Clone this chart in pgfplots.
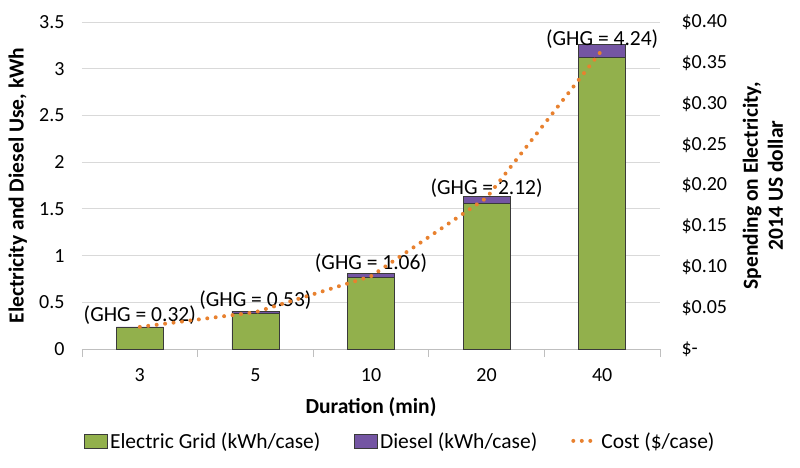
\documentclass[border=0pt]{standalone}
\usepackage{fontspec}
\setmainfont{Carlito}
\usepackage{pgfplots}
\pgfplotsset{compat=1.18}

\definecolor{gridgreen}{HTML}{92B04C}
\definecolor{dieselpurple}{HTML}{7455A3}
\definecolor{costorange}{HTML}{E8812F}
\definecolor{gridgray}{HTML}{D9D9D9}
\definecolor{axisgray}{HTML}{BFBFBF}
\definecolor{edgegray}{HTML}{3A3A3A}

\pgfplotsset{
  common/.style={
    scale only axis, width=578bp, height=327bp,
    xmin=-0.5, xmax=4.5,
    major tick length=0pt,
    tick label style={font=\fontsize{20bp}{24bp}\selectfont},
    label style={font=\fontsize{21.5bp}{25bp}\selectfont\bfseries},
    /pgf/number format/assume math mode=true,
  },
  boxlegend/.style={legend image code/.code={\draw[##1] (0bp,-7bp) rectangle (23bp,7bp);}},
  dotlegend/.style={legend image code/.code={\draw[##1] (0bp,0bp) -- (17bp,0bp);
    \path (24bp,0bp);}},
}

\begin{document}
\begin{tikzpicture}
\begin{axis}[
  common,
  ybar stacked, bar width=47bp,
  ymin=0, ymax=3.5,
  xtick={0,...,4}, xticklabels={3,5,10,20,40},
  minor xtick={-0.5,0.5,1.5,2.5,3.5,4.5},
  minor tick length=8bp, tick align=outside,
  minor tick style={axisgray, line width=0.8bp},
  ytick={0,0.5,1,1.5,2,2.5,3,3.5},
  ymajorgrids, grid style={draw=gridgray, line width=0.8bp},
  separate axis lines,
  axis x line*=bottom, axis y line*=left,
  x axis line style={draw=axisgray, line width=0.8bp, -},
  y axis line style={draw=none},
  xticklabel style={yshift=-16bp},
  yticklabel style={xshift=-14bp},
  xlabel={Duration (min)},
  xlabel style={at={(axis description cs:0.5,-0.177)}, anchor=center},
  ylabel={Electricity and Diesel Use, kWh},
  ylabel style={at={(axis description cs:-0.111,0.5)}, anchor=center},
]
\addplot[fill=gridgreen, draw=edgegray, line width=0.6bp]
  coordinates {(0,0.23) (1,0.385) (2,0.77) (3,1.56) (4,3.12)};
\addplot[fill=dieselpurple, draw=edgegray, line width=0.6bp,
  nodes near coords, point meta=explicit symbolic,
  every node near coord/.append style={text=black, anchor=south, inner sep=2bp,
    font=\fontsize{21.5bp}{25bp}\selectfont}]
  coordinates {(0,0.006) [(GHG = 0.32)] (1,0.02) [(GHG = 0.53)] (2,0.04) [(GHG = 1.06)]
               (3,0.07) [(GHG = 2.12)] (4,0.14) [(GHG = 4.24)]};
\end{axis}

\begin{axis}[
  common,
  ymin=0, ymax=0.4,
  axis x line=none, axis y line*=right,
  y axis line style={draw=none},
  ytick={0,0.05,0.1,0.15,0.2,0.25,0.3,0.35,0.4},
  yticklabels={\$-,\$0.05,\$0.10,\$0.15,\$0.20,\$0.25,\$0.30,\$0.35,\$0.40},
  yticklabel style={xshift=18bp},
  ylabel={Spending on Electricity,\\2014 US dollar},
  ylabel style={at={(axis description cs:1.178,0.5)}, anchor=center, align=center},
  legend style={at={(axis description cs:0.551,-0.281)}, anchor=center,
    draw=none, fill=none, font=\fontsize{21.5bp}{25bp}\selectfont,
    inner xsep=0pt,
    nodes={inner xsep=2bp},
    legend columns=3, /tikz/every even column/.append style={column sep=32bp}},
  legend cell align=left,
]
\addlegendimage{fill=gridgreen, draw=edgegray, line width=0.6bp, boxlegend}
\addlegendentry{Electric Grid (kWh/case)}
\addlegendimage{fill=dieselpurple, draw=edgegray, line width=0.6bp, boxlegend}
\addlegendentry{Diesel (kWh/case)}
\addplot[costorange, line width=4bp, line cap=round, dash pattern=on 0pt off 8.5bp, dotlegend]
  coordinates {(0,0.027) (1,0.045) (2,0.089) (3,0.185) (4,0.366)};
\addlegendentry{Cost (\$/case)}
\end{axis}
\path (-82bp,-119bp) rectangle (718bp,349bp);
\end{tikzpicture}
\end{document}
